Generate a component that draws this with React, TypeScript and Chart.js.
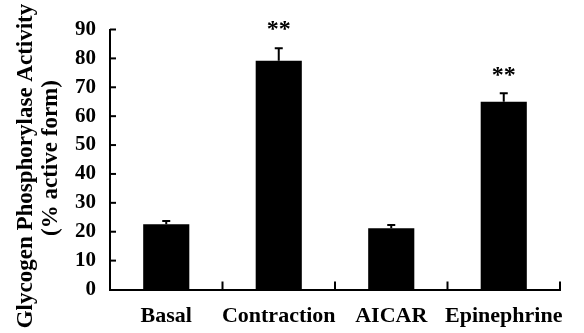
import React, { useEffect, useRef } from "react";
import { Chart, registerables } from "chart.js";

Chart.register(...registerables);

const categories = ["Basal", "Contraction", "AICAR", "Epinephrine"];
const means = [22.6, 79.2, 21.2, 65.0];
const errors = [1.1, 4.3, 1.1, 2.9];
const significance = ["", "**", "", "**"];
const yTicks = [0, 10, 20, 30, 40, 50, 60, 70, 80, 90];
const yTitle = ["Glycogen Phosphorylase Activity", "(% active form)"];

const FONT = "'Liberation Serif', 'Times New Roman', serif";

const decorPlugin = {
  id: "decor",
  afterDatasetsDraw(chart: any) {
    const ctx = chart.ctx;
    const y = chart.scales.y;
    const area = chart.chartArea;
    const meta = chart.getDatasetMeta(0);
    ctx.save();
    ctx.strokeStyle = "#000";
    ctx.fillStyle = "#000";
    meta.data.forEach((bar: any, i: number) => {
      const top = y.getPixelForValue(means[i] + errors[i]);
      const base = y.getPixelForValue(means[i]);
      ctx.lineWidth = 2;
      ctx.beginPath();
      ctx.moveTo(bar.x, base);
      ctx.lineTo(bar.x, top);
      ctx.moveTo(bar.x - 4, top);
      ctx.lineTo(bar.x + 4, top);
      ctx.stroke();
      if (significance[i]) {
        ctx.font = `bold 24px ${FONT}`;
        ctx.textAlign = "center";
        ctx.textBaseline = "middle";
        ctx.fillText(significance[i], bar.x, top - 18);
      }
    });
    ctx.lineWidth = 2;
    yTicks.forEach((v) => {
      if (v === 0) return;
      const py = y.getPixelForValue(v);
      ctx.beginPath();
      ctx.moveTo(area.left, py);
      ctx.lineTo(area.left + 6, py);
      ctx.stroke();
    });
    const n = categories.length;
    const w = (area.right - area.left) / n;
    for (let i = 1; i <= n; i++) {
      const px = area.left + w * i;
      ctx.beginPath();
      ctx.moveTo(px, area.bottom);
      ctx.lineTo(px, area.bottom - 8);
      ctx.stroke();
    }
    ctx.font = `bold 23px ${FONT}`;
    ctx.textAlign = "center";
    ctx.textBaseline = "middle";
    ctx.translate(26, 166);
    ctx.rotate(-Math.PI / 2);
    ctx.fillText(yTitle[0], 0, 0);
    ctx.fillText(yTitle[1], 8, 25);
    ctx.restore();
  },
};

export default function App() {
  const ref = useRef<HTMLCanvasElement | null>(null);
  useEffect(() => {
    const chart = new Chart(ref.current as HTMLCanvasElement, {
      type: "bar",
      data: {
        labels: categories,
        datasets: [
          {
            data: means,
            backgroundColor: "#000",
            borderWidth: 0,
            categoryPercentage: 1,
            barPercentage: 0.41,
          },
        ],
      },
      options: {
        responsive: false,
        animation: false,
        layout: { padding: { top: 29.5, right: 24, left: 0, bottom: 0 } },
        plugins: { legend: { display: false }, tooltip: { enabled: false } },
        scales: {
          x: {
            grid: { display: false, drawTicks: false },
            border: { display: true, color: "#000", width: 2 },
            ticks: {
              color: "#000",
              padding: 14,
              maxRotation: 0,
              minRotation: 0,
              autoSkip: false,
              font: { family: FONT, weight: "bold", size: 22 },
            },
            afterFit: (s: any) => {
              s.height = 43.5;
            },
          },
          y: {
            min: 0,
            max: 90,
            grid: { display: false, drawTicks: false },
            border: { display: true, color: "#000", width: 2 },
            ticks: {
              stepSize: 10,
              color: "#000",
              padding: 14,
              font: { family: FONT, weight: "bold", size: 21 },
            },
            afterFit: (s: any) => {
              s.width = 110;
            },
          },
        },
      },
      plugins: [decorPlugin],
    });
    return () => chart.destroy();
  }, []);
  return (
    <div style={{ position: "fixed", left: 0, top: 0, width: 584, height: 333, background: "#fff" }}>
      <canvas ref={ref} width={584} height={333} />
    </div>
  );
}
